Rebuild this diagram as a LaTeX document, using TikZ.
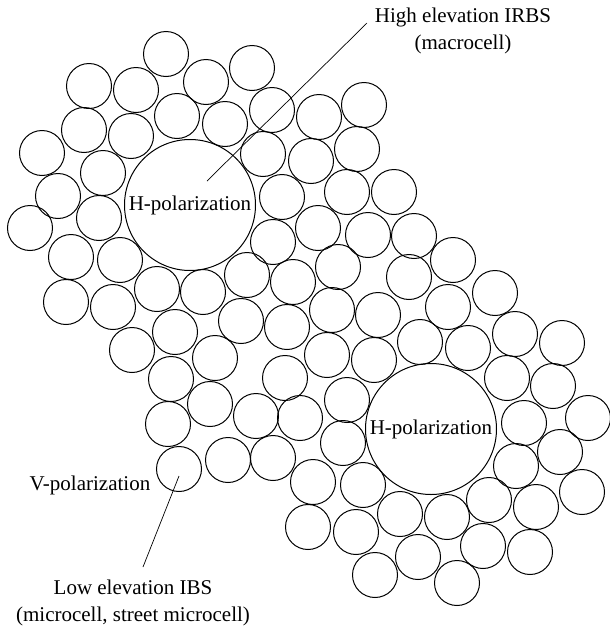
\documentclass[tikz,border=0pt]{standalone}
\usepackage{fontspec}
\setmainfont{Liberation Serif}
\usetikzlibrary{positioning}

\tikzset{
  cell/.style = {circle, draw, line width = 1pt, minimum size = 45pt, inner sep = 0pt},
  macro/.style = {circle, draw, line width = 1pt, minimum size = 131pt, inner sep = 0pt},
  lbl/.style = {align = center, inner sep = 0pt}
}

\begin{document}
\begin{tikzpicture}[x = 1pt, y = -1pt, font = \fontsize{21}{27}\selectfont, line width = 0.7pt, draw = black]
  \useasboundingbox (0,0) rectangle (610,627);

  % small cells (microcells)
  \foreach \x/\y [count = \i] in {
      166/54, 89/86, 136/90, 206/82, 252/68, 84/130, 131/136, 177/116, 225/124, 272/110,
      319/117, 364/105, 42/153, 103/173, 263/154, 311/161, 357/149, 58/196, 99/218, 282/197,
      347/192, 394/192, 30/228, 71/257, 120/260, 273/242, 318/228, 368/235, 414/236, 66/302,
      113/307, 157/289, 203/292, 247/275, 293/282, 338/267, 409/277, 453/260, 175/332, 241/321,
      287/327, 332/310, 378/315, 448/307, 495/293, 132/350, 215/358, 285/378, 327/355, 374/360,
      420/342, 468/348, 515/334, 562/343, 171/379, 210/404, 256/416, 300/418, 347/400, 507/378,
      553/386, 168/424, 179/469, 228/460, 273/458, 343/443, 524/423, 588/418, 516/466, 560/452,
      313/482, 363/485, 400/514, 447/517, 489/500, 536/507, 582/492, 308/527, 356/532, 418/557,
      483/546, 530/552, 375/575, 457/583}
    \node (c\i) [cell] at (\x,\y) {};

  % large cells (macrocells)
  \node (bigA) [macro] at (190,205) {H-polarization};
  \node (bigB) [macro] at (431,429) {H-polarization};

  % labels
  \node (hilab) [lbl] at (463,31) {High elevation IRBS\\(macrocell)};
  \node (vpol) [lbl] at (90,485) {V-polarization};
  \node (lolab) [lbl] at (133,603) {Low elevation IBS\\(microcell, street microcell)};

  \coordinate (hifoot) at (367,23);
  \coordinate (hitip) at (207,181);
  \coordinate (lofoot) at (143,567);
  \coordinate (lotip) at (179,476);

  \draw (hifoot) -- (hitip);
  \draw (lofoot) -- (lotip);
\end{tikzpicture}
\end{document}
